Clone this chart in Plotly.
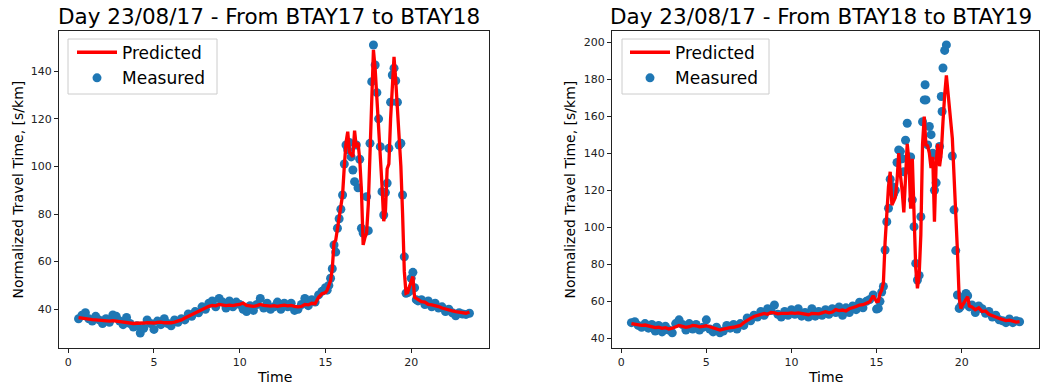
import plotly.graph_objects as go

W, H = 1046, 385

# ---------------- data: BTAY17 -> BTAY18 ----------------
time_a = [0.6, 0.8, 1.0, 1.2, 1.4, 1.6, 1.8, 2.0, 2.2, 2.4,
          2.6, 2.8, 3.0, 3.2, 3.4, 3.6, 3.8, 4.0, 4.2, 4.4,
          4.6, 4.8, 5.0, 5.2, 5.4, 5.6, 5.8, 6.0, 6.2, 6.4,
          6.6, 6.8, 7.0, 7.2, 7.4, 7.6, 7.8, 8.0, 8.2, 8.4,
          8.6, 8.8, 9.0, 9.2, 9.4, 9.6, 9.8, 10.0, 10.2, 10.4,
          10.6, 10.8, 11.0, 11.2, 11.4, 11.6, 11.8, 12.0, 12.2, 12.4,
          12.6, 12.8, 13.0, 13.2, 13.4, 13.6, 13.8, 14.0, 14.2, 14.4,
          14.6, 14.8,
          15.0, 15.1, 15.2, 15.3, 15.4, 15.5, 15.6, 15.7, 15.8, 15.9,
          16.0, 16.1, 16.2, 16.3, 16.4, 16.5, 16.6, 16.7, 16.8, 16.9,
          17.0, 17.1, 17.2, 17.3, 17.4, 17.5, 17.6, 17.7, 17.8, 17.9,
          18.0, 18.1, 18.2, 18.3, 18.4, 18.5, 18.6, 18.7, 18.8, 18.9,
          19.0, 19.1, 19.2, 19.3, 19.4, 19.5, 19.6, 19.7, 19.8, 19.9,
          20.0, 20.1, 20.2, 20.3, 20.4,
          20.6, 20.8, 21.0, 21.2, 21.4, 21.6, 21.8, 22.0, 22.2, 22.4,
          22.6, 22.8, 23.0, 23.2, 23.4]

measured_a = [36.0, 37.5, 38.5, 36.0, 35.0, 37.0, 35.5, 34.0, 36.0, 34.5,
              37.6, 37.0, 35.0, 33.5, 36.5, 34.0, 32.5, 33.0, 30.0, 32.0,
              35.5, 34.0, 31.5, 35.0, 33.5, 36.0, 34.0, 33.0, 35.5, 34.5,
              36.0, 35.5, 38.0, 37.0, 39.0, 38.5, 41.0, 40.0, 42.5, 43.5,
              41.0, 44.5, 43.0, 40.5, 43.5, 41.0, 43.0, 42.0, 40.0, 39.0,
              41.5, 39.5, 42.0, 44.5, 40.5, 42.5, 40.0, 41.0, 43.0, 40.0,
              42.5, 41.0, 42.5, 39.5, 40.0, 42.0, 44.5, 41.5, 44.0, 43.0,
              46.0, 47.5,
              49, 48, 50, 53, 57, 67, 64, 74, 78, 82,
              88, 101, 109, 107, 110, 104, 98.5, 93.6, 109, 91,
              103, 74, 72, 72.5, 87.3, 73, 109.7, 135.6, 151, 142.6,
              131, 120, 108.3, 89.4, 79.6, 89, 93, 107.6, 127, 138.4,
              141.3, 136, 127, 109, 109.7, 88, 62, 46.7, 47, 47.5,
              53, 55.5, 49, 44, 43.5,
              44, 42, 43.5, 41, 42.5, 40.5, 41, 39, 40, 38.5,
              37.2, 38.5, 38, 37.8, 38.3]

predicted_a = [36.5, 36.2, 36.0, 35.8, 35.6, 35.5, 35.3, 35.2, 35.0, 35.0,
               35.2, 35.0, 34.8, 34.5, 34.2, 34.0, 34.0, 34.1, 34.0, 34.2,
               34.4, 34.3, 34.2, 34.5, 34.6, 34.3, 34.2, 34.3, 34.6, 35.0,
               35.5, 36.3, 37.0, 37.8, 38.6, 39.3, 40.0, 40.5, 41.2, 41.6,
               41.4, 42.0, 41.8, 41.5, 41.7, 41.5, 41.8, 42.0, 42.6, 41.6,
               41.4, 41.2, 41.5, 42.0, 41.6, 41.4, 41.3, 41.5, 41.2, 41.5,
               41.7, 41.4, 41.6, 41.2, 41.0, 41.2, 42.0, 41.8, 42.5, 42.3,
               45.0, 46.5,
               47, 48, 50, 52, 57, 68, 69, 74, 77, 83,
               88, 100, 110, 114.6, 106, 105, 104, 115, 108, 110,
               103, 90, 67, 70, 72, 84, 105, 130, 149, 141,
               130, 116, 106, 92, 77, 81, 99, 101, 120, 136,
               146, 136, 123, 110, 100, 80, 56, 46.7, 47, 49.5,
               52, 53.7, 45, 44.5, 43.8,
               43.2, 43.0, 42.0, 41.8, 41.5, 41.1, 40.5, 40.0, 39.7, 39.3,
               39.0, 38.8, 38.5, 38.3, 38.8]

# ---------------- data: BTAY18 -> BTAY19 ----------------
time_b = [0.6, 0.8, 1.0, 1.2, 1.4, 1.6, 1.8, 2.0, 2.2, 2.4,
          2.6, 2.8, 3.0, 3.2, 3.4, 3.6, 3.8, 4.0, 4.2, 4.4,
          4.6, 4.8, 5.0, 5.2, 5.4, 5.6, 5.8, 6.0, 6.2, 6.4,
          6.6, 6.8, 7.0, 7.2, 7.4, 7.6, 7.8, 8.0, 8.2, 8.4,
          8.6, 8.8, 9.0, 9.2, 9.4, 9.6, 9.8, 10.0, 10.2, 10.4,
          10.6, 10.8, 11.0, 11.2, 11.4, 11.6, 11.8, 12.0, 12.2, 12.4,
          12.6, 12.8, 13.0, 13.2, 13.4, 13.6, 13.8, 14.0, 14.2, 14.4,
          14.6, 14.8,
          15.0, 15.1, 15.2, 15.3, 15.4, 15.5, 15.6, 15.7, 15.8, 15.9,
          16.0, 16.1, 16.2, 16.3, 16.4, 16.5, 16.6, 16.7, 16.8, 16.9,
          17.0, 17.1, 17.2, 17.3, 17.4, 17.5, 17.6, 17.7, 17.8, 17.85,
          17.9, 18.0, 18.1, 18.2, 18.3, 18.4, 18.5, 18.6, 18.7, 18.8,
          18.85, 18.9, 19.0, 19.1,
          19.45, 19.55, 19.65, 19.75, 19.85, 19.95, 20.05, 20.15, 20.25, 20.35,
          20.45,
          20.6, 20.8, 21.0, 21.2, 21.4, 21.6, 21.8, 22.0, 22.2, 22.4,
          22.6, 22.8, 23.0, 23.2, 23.4]

measured_b = [48.5, 49.0, 47.0, 46.0, 48.0, 45.5, 47.5, 44.0, 47.0, 43.5,
              46.5, 44.5, 43.0, 48.0, 50.0, 47.5, 44.5, 48.0, 45.0, 47.5,
              44.5, 46.0, 50.0, 45.0, 43.5, 46.0, 43.0, 44.0, 47.0, 45.5,
              47.5, 45.0, 48.0, 47.0, 51.0, 49.5, 52.5, 51.5, 54.5, 52.5,
              56.0, 55.0, 58.0, 53.0, 51.5, 54.5, 52.5, 55.5, 53.0, 56.0,
              52.0, 54.0, 51.5, 56.0, 52.0, 54.5, 52.5, 55.5, 53.0, 56.0,
              54.0, 57.0, 52.5, 56.5, 54.0, 57.5, 55.5, 59.5, 56.5, 60.0,
              61.0, 63.4,
              55.8, 56.2, 60, 65, 68, 87.7, 103, 110.3, 126, 122,
              118, 120, 135, 141.8, 141, 137, 130, 147, 156.2, 138,
              138, 114.8, 100.3, 80.5, 71.5, 74, 105.7, 157, 168.8, 177,
              168.8, 144.5, 154.4, 150, 140, 120, 124, 138, 143.6, 170.6,
              162.5, 186, 195.5, 198.5,
              138.5, 109.4, 87.4, 63.4, 56.2, 57.5, 59, 62.5, 64.3, 63,
              57,
              58, 54, 57.5, 56, 53.5, 54.5, 51.5, 52.5, 50, 49.5,
              48.5, 50.5, 48.5, 49.5, 49]

predicted_b = [48.0, 47.7, 47.5, 47.0, 47.2, 46.8, 46.5, 45.8, 46.0, 45.4,
               45.8, 45.0, 45.5, 46.5, 47.0, 46.5, 46.0, 46.3, 47.0, 46.8,
               46.2, 46.5, 46.8, 46.3, 45.8, 45.2, 44.5, 45.0, 45.6, 45.8,
               46.0, 46.3, 47.0, 48.5, 49.8, 50.8, 51.8, 52.5, 53.0, 53.5,
               53.0, 54.0, 53.8, 53.2, 53.5, 53.3, 53.5, 53.8, 53.5, 53.8,
               53.6, 53.3, 52.8, 53.5, 53.4, 53.2, 53.8, 54.4, 53.8, 54.2,
               55.5, 55.0, 55.3, 54.8, 56.0, 56.5, 57.2, 58.0, 58.2, 59.0,
               59.8, 63.0,
               59.8, 60, 64, 66, 70, 92, 110, 122, 130, 112,
               114, 116, 125, 140, 128, 120, 108, 130, 145, 136,
               110, 137, 110, 78, 67, 74, 96, 145, 159.8, 152,
               144.5, 144, 140, 132, 138, 103, 135, 145, 133, 140,
               151, 157, 171.5, 182,
               148, 130, 110, 87, 62, 56.2, 58, 59.5, 61, 62.5,
               57.5,
               57, 55.5, 56.5, 54.5, 54.8, 53, 52, 51.5, 50.8, 50.2,
               49.6, 49.8, 49.2, 48.8, 49]

titles = ["Day 23/08/17 - From BTAY17 to BTAY18",
          "Day 23/08/17 - From BTAY18 to BTAY19"]
x_ticks = [0, 5, 10, 15, 20]
y_ticks_a = [40, 60, 80, 100, 120, 140]
y_ticks_b = [40, 60, 80, 100, 120, 140, 160, 180, 200]

# ---------------- layout geometry (pixels) ----------------
FONT = "DejaVu Sans"
BLUE = "#1f77b4"
RED = "#ff0000"
ax_left = [(59, 489), (612, 1039)]
ax_top, ax_bot = 31, 348


def px(x):
    return x / W


def py(y):
    return 1 - y / H


fig = go.Figure()

series = [(time_a, measured_a, predicted_a, "x", "y", "legend", "legend2"),
          (time_b, measured_b, predicted_b, "x2", "y2", "legend3", "legend4")]

for t, meas, pred, xa, ya, lg_p, lg_m in series:
    fig.add_trace(go.Scatter(x=t, y=meas, mode="markers", name="Measured",
                             marker=dict(color=BLUE, size=9, line=dict(width=0)),
                             xaxis=xa, yaxis=ya, legend=lg_m))
    fig.add_trace(go.Scatter(x=t, y=pred, mode="lines", name="Predicted",
                             line=dict(color=RED, width=3.3),
                             xaxis=xa, yaxis=ya, legend=lg_p))

axis_common = dict(showline=True, mirror=True, linecolor="#222", linewidth=1,
                   ticks="outside", ticklen=4, tickwidth=1, tickcolor="#222",
                   showgrid=False, zeroline=False,
                   tickfont=dict(family=FONT, size=11, color="#222"))

fig.update_layout(
    width=W, height=H, margin=dict(l=0, r=0, t=0, b=0),
    paper_bgcolor="white", plot_bgcolor="white",
    font=dict(family=FONT, color="black"),
    xaxis=dict(domain=[px(59), px(489)], range=[-0.54, 24.54], anchor="y",
               tickvals=x_ticks, **axis_common),
    yaxis=dict(domain=[py(ax_bot), py(ax_top)], range=[23.7, 156.9], anchor="x",
               tickvals=y_ticks_a, **axis_common),
    xaxis2=dict(domain=[px(612), px(1039)], range=[-0.54, 24.54], anchor="y2",
                tickvals=x_ticks, **axis_common),
    yaxis2=dict(domain=[py(ax_bot), py(ax_top)], range=[34.8, 206.0], anchor="x2",
                tickvals=y_ticks_b, **axis_common),
    showlegend=True,
)

leg_common = dict(bgcolor="rgba(0,0,0,0)", borderwidth=0, itemwidth=40,
                  font=dict(family=FONT, size=17, color="black"),
                  xanchor="left", yanchor="middle", xref="paper", yref="paper")
fig.update_layout(
    legend=dict(x=px(124 - 52), y=py(52.7), **leg_common),
    legend2=dict(x=px(124 - 52), y=py(78.3), **leg_common),
    legend3=dict(x=px(677 - 52), y=py(52.7), **leg_common),
    legend4=dict(x=px(677 - 52), y=py(78.3), **leg_common),
)

# legend frames
for x0, x1 in [(68, 217), (622, 769)]:
    fig.add_shape(type="rect", xref="paper", yref="paper",
                  x0=px(x0), x1=px(x1), y0=py(94), y1=py(39),
                  line=dict(color="#cccccc", width=1),
                  fillcolor="rgba(255,255,255,0.8)", layer="above")

annotations = []
for (l, r), title in zip(ax_left, titles):
    cx = px((l + r) / 2)
    annotations.append(dict(text=title, x=px((l + r) / 2 - 5), y=py(16),
                            xref="paper", yref="paper",
                            xanchor="center", yanchor="middle", showarrow=False,
                            font=dict(family=FONT, size=21.5, color="black")))
    annotations.append(dict(text="Time", x=cx, y=py(377), xref="paper", yref="paper",
                            xanchor="center", yanchor="middle", showarrow=False,
                            font=dict(family=FONT, size=14, color="black")))
for xc in [17, 569]:
    annotations.append(dict(text="Normalized Travel Time, [s/km]", x=px(xc),
                            y=py((ax_top + ax_bot) / 2), xref="paper", yref="paper",
                            xanchor="center", yanchor="middle", textangle=-90,
                            showarrow=False,
                            font=dict(family=FONT, size=14, color="black")))
fig.update_layout(annotations=annotations)

fig.write_html("out.html",
               config={"displayModeBar": False},
               post_script="document.body.style.margin='0';"
                           "document.body.style.padding='0';")
